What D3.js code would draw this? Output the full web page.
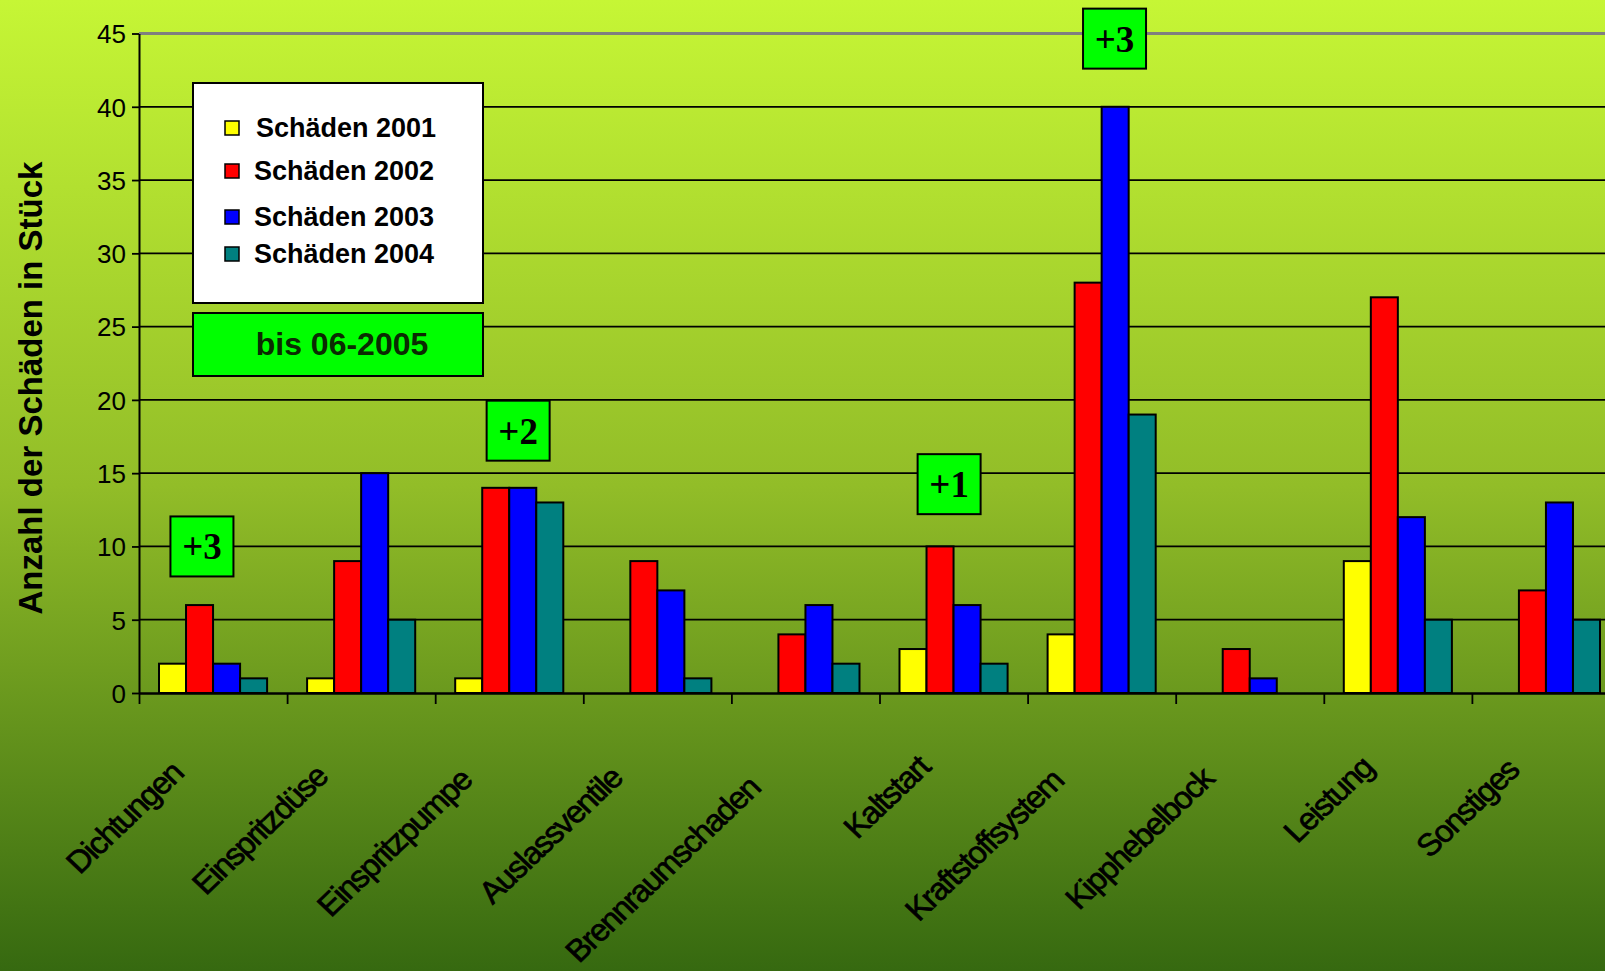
<!DOCTYPE html>
<html lang="de">
<head>
    <meta charset="UTF-8">
    <title>Schäden</title>
    <script src="https://d3js.org/d3.v7.min.js"></script>
    <style>
        body {
            margin: 0;
            overflow: hidden;
        }
        svg {
            display: block;
            font-family: "Liberation Sans", Arial, sans-serif;
        }
        .tick-label {
            font-size: 26px;
        }
        .cat-label {
            font-size: 31px;
            letter-spacing: -1.5px;
            stroke: #000;
            stroke-width: 0.7px;
        }
        .axis-title {
            font-size: 33px;
            font-weight: bold;
        }
        .legend-text {
            font-size: 27px;
            font-weight: bold;
        }
        .note {
            font-family: "Liberation Serif", "Times New Roman", serif;
            font-size: 37px;
            font-weight: bold;
        }
    </style>
</head>
<body>
    <svg width="1605" height="971"></svg>
    <script>
        // Data
        const categories = ["Dichtungen", "Einspritzdüse", "Einspritzpumpe", "Auslassventile",
            "Brennraumschaden", "Kaltstart", "Kraftstoffsystem", "Kipphebelbock", "Leistung", "Sonstiges"];
        const seriesNames = ["Schäden 2001", "Schäden 2002", "Schäden 2003", "Schäden 2004"];
        const seriesColors = ["#ffff00", "#ff0000", "#0000ff", "#008080"];
        const values2001 = [2, 1, 1, 0, 0, 3, 4, 0, 9, 0];
        const values2002 = [6, 9, 14, 9, 4, 10, 28, 3, 27, 7];
        const values2003 = [2, 15, 14, 7, 6, 6, 40, 1, 12, 13];
        const values2004 = [1, 5, 13, 1, 2, 2, 19, 0, 5, 5];
        const yTicks = [0, 5, 10, 15, 20, 25, 30, 35, 40, 45];
        // extra damages noted in boxes: category, position in band, value at box centre
        const notes = [
            {cat: "Dichtungen", frac: 0.425, value: 10, text: "+3"},
            {cat: "Einspritzpumpe", frac: 0.56, value: 17.9, text: "+2"},
            {cat: "Kaltstart", frac: 0.47, value: 14.25, text: "+1"},
            {cat: "Kraftstoffsystem", frac: 0.587, value: 44.65, text: "+3"}
        ];
        const periodText = "bis 06-2005";
        const yTitle = "Anzahl der Schäden in Stück";

        const allValues = [values2001, values2002, values2003, values2004];

        // Layout
        const W = 1605, H = 971;
        const plot = {left: 139, right: 1620, top: 33.5, bottom: 693};

        const svg = d3.select("svg");

        // background gradient
        const grad = svg.append("defs").append("linearGradient")
            .attr("id", "bg").attr("x1", 0).attr("y1", 0).attr("x2", 0).attr("y2", 1);
        grad.append("stop").attr("offset", "0%").attr("stop-color", "#c6f635");
        grad.append("stop").attr("offset", "50%").attr("stop-color", "#92bd28");
        grad.append("stop").attr("offset", "100%").attr("stop-color", "#366910");
        svg.append("rect").attr("width", W).attr("height", H).attr("fill", "url(#bg)");

        // Scales
        const x = d3.scaleBand()
            .domain(categories)
            .range([plot.left, plot.right]);
        const xSub = d3.scaleBand()
            .domain(seriesNames)
            .range([20, x.bandwidth() - 20]);
        const xEdge = d3.scaleLinear()
            .domain([0, categories.length])
            .range([plot.left, plot.right]);
        const y = d3.scaleLinear()
            .domain([0, 45])
            .range([plot.bottom, plot.top]);

        // Gridlines
        svg.append("g")
            .selectAll("line")
            .data(yTicks.filter(t => t > 0))
            .join("line")
            .attr("x1", plot.left).attr("x2", W)
            .attr("y1", d => y(d)).attr("y2", d => y(d))
            .attr("stroke", d => d === 45 ? "#7f7f7f" : "#000")
            .attr("stroke-width", d => d === 45 ? 3 : 1.8);

        // Bars
        const groups = svg.append("g")
            .selectAll("g")
            .data(categories)
            .join("g")
            .attr("transform", d => `translate(${x(d)},0)`);

        groups.selectAll("rect")
            .data((d, i) => seriesNames.map((s, j) => ({s, j, v: allValues[j][i]})).filter(e => e.v > 0))
            .join("rect")
            .attr("x", d => xSub(d.s))
            .attr("width", xSub.bandwidth())
            .attr("y", d => y(d.v))
            .attr("height", d => y(0) - y(d.v))
            .attr("fill", d => seriesColors[d.j])
            .attr("stroke", "#000")
            .attr("stroke-width", 2);

        // Y axis
        const yAxis = svg.append("g")
            .attr("transform", `translate(${plot.left},0)`)
            .call(d3.axisLeft(y).tickValues(yTicks).tickSize(7).tickSizeOuter(0).tickPadding(6));
        yAxis.select(".domain").attr("stroke", "#000").attr("stroke-width", 2);
        yAxis.selectAll(".tick line").attr("stroke", "#000").attr("stroke-width", 1.8);
        yAxis.selectAll(".tick text")
            .attr("class", "tick-label")
            .attr("fill", "#000")
            .attr("font-family", null).attr("font-size", null)
            .attr("dy", "0.36em");

        // X axis with ticks between categories
        const xAxis = svg.append("g")
            .attr("transform", `translate(0,${plot.bottom})`)
            .call(d3.axisBottom(xEdge).ticks(categories.length).tickSize(11).tickSizeOuter(0).tickFormat(""));
        xAxis.select(".domain").attr("stroke", "#000").attr("stroke-width", 2.5);
        xAxis.selectAll(".tick line").attr("stroke", "#000").attr("stroke-width", 1.8);

        // Category labels, rotated (slightly stretched sideways like the original)
        svg.append("g")
            .selectAll("text")
            .data(categories)
            .join("text")
            .attr("class", "cat-label")
            .attr("text-anchor", "end")
            .attr("transform", d => `translate(${x(d) + x.bandwidth() / 2 - 7},755) scale(1.05,1) rotate(-45)`)
            .text(d => d)
            .attr("x", function() { return -0.2 * this.getComputedTextLength(); });

        // Y axis title
        svg.append("text")
            .attr("class", "axis-title")
            .attr("text-anchor", "middle")
            .attr("transform", "translate(42,388) rotate(-90)")
            .text(yTitle);

        // Legend
        const legend = svg.append("g");
        legend.append("rect")
            .attr("x", 193).attr("y", 83).attr("width", 290).attr("height", 220)
            .attr("fill", "#fff").attr("stroke", "#000").attr("stroke-width", 2);
        const legendRowY = [137, 180, 226, 263];
        const rows = legend.selectAll("g.row")
            .data(seriesNames)
            .join("g")
            .attr("class", "row")
            .attr("transform", (d, i) => `translate(0,${legendRowY[i]})`);
        rows.append("rect")
            .attr("x", 225).attr("y", -16).attr("width", 14).attr("height", 14)
            .attr("fill", (d, i) => seriesColors[i])
            .attr("stroke", "#000").attr("stroke-width", 1.5);
        rows.append("text")
            .attr("class", "legend-text")
            .attr("x", (d, i) => i === 0 ? 256 : 254)
            .text(d => d);

        // Period box
        svg.append("rect")
            .attr("x", 193).attr("y", 313).attr("width", 290).attr("height", 63)
            .attr("fill", "#00ff00").attr("stroke", "#000").attr("stroke-width", 2);
        svg.append("text")
            .attr("x", 342).attr("y", 355)
            .attr("text-anchor", "middle")
            .attr("font-size", 32).attr("font-weight", "bold")
            .attr("fill", "#0b2b02")
            .text(periodText);

        // Note boxes
        const boxW = 63, boxH = 60;
        const noteG = svg.append("g")
            .selectAll("g")
            .data(notes)
            .join("g")
            .attr("transform", d => `translate(${x(d.cat) + d.frac * x.bandwidth()},${y(d.value)})`);
        noteG.append("rect")
            .attr("x", -boxW / 2).attr("y", -boxH / 2).attr("width", boxW).attr("height", boxH)
            .attr("fill", "#00ff00").attr("stroke", "#000").attr("stroke-width", 2);
        noteG.append("text")
            .attr("class", "note")
            .attr("text-anchor", "middle")
            .attr("y", 13)
            .text(d => d.text);
    </script>
</body>
</html>
